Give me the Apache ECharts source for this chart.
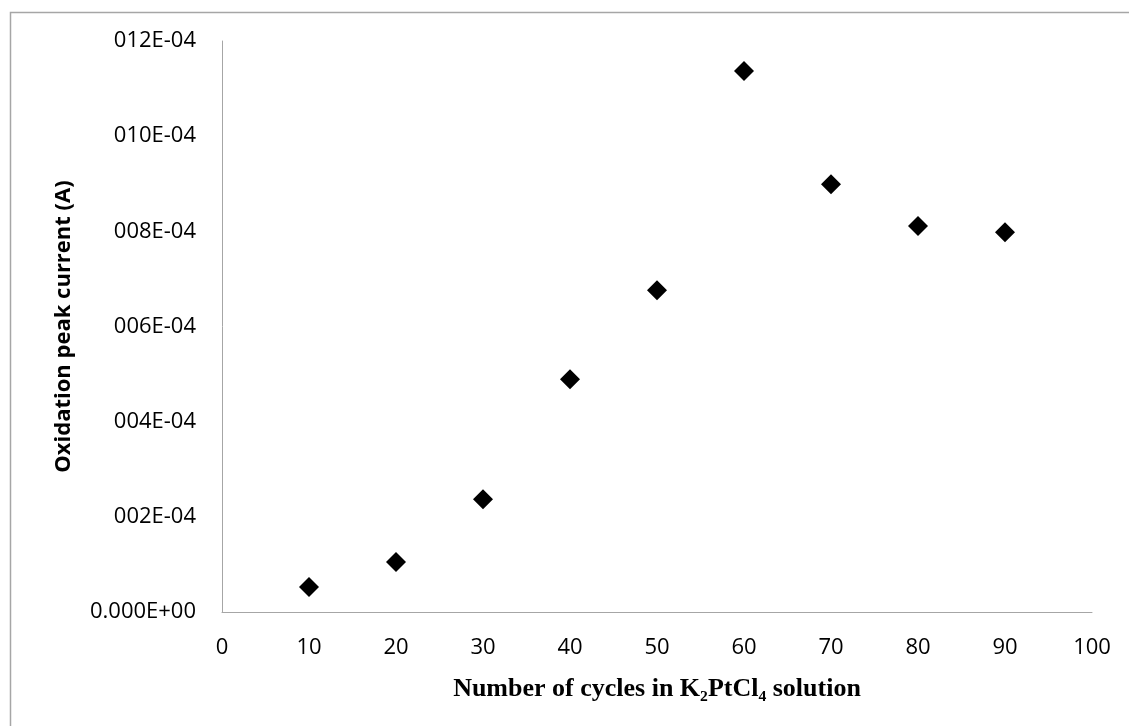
<!DOCTYPE html>
<html>
<head>
<meta charset="utf-8">
<script src="https://cdn.jsdelivr.net/npm/echarts@6/dist/echarts.min.js"></script>
<style>
html,body{margin:0;padding:0;background:#fff;}
#chart{width:1129px;height:726px;}
</style>
</head>
<body>
<div id="chart"></div>
<script>
const cycles = [10, 20, 30, 40, 50, 60, 70, 80, 90];
const peakCurrent = [0.0000525, 0.000105, 0.000237, 0.000489, 0.000676, 0.001137, 0.000899, 0.000811, 0.000798];
const yTickLabels = ['0.000E+00', '002E-04', '004E-04', '006E-04', '008E-04', '010E-04', '012E-04'];
const xTitle = 'Number of cycles in K\u2082PtCl\u2084 solution';
const yTitle = 'Oxidation peak current (A)';

const chart = echarts.init(document.getElementById('chart'));
chart.setOption({
  animation: false,
  backgroundColor: '#fff',
  graphic: [{
    type: 'rect',
    shape: {x: 10.5, y: 12.5, width: 1300, height: 900},
    style: {fill: 'none', stroke: '#a6a6a6', lineWidth: 1.5},
    silent: true
  }],
  grid: {left: 222, right: 37, top: 41, bottom: 114},
  xAxis: {
    type: 'value', min: 0, max: 100, interval: 10,
    axisLine: {show: true, lineStyle: {color: '#a6a6a6', width: 1}},
    axisTick: {show: false},
    splitLine: {show: false},
    axisLabel: {color: '#000', fontFamily: 'Open Sans', fontSize: 22, margin: 25},
    name: xTitle, nameLocation: 'middle', nameGap: 64,
    nameTextStyle: {color: '#000', fontFamily: 'Liberation Serif', fontWeight: 'bold', fontSize: 26}
  },
  yAxis: {
    type: 'value', min: 0, max: 0.0012, interval: 0.0002,
    axisLine: {show: true, lineStyle: {color: '#a6a6a6', width: 1}},
    axisTick: {show: false},
    splitLine: {show: false},
    axisLabel: {color: '#000', fontFamily: 'Open Sans', fontSize: 22, margin: 26,
      formatter: function (v) { return yTickLabels[Math.round(v / 0.0002)]; }},
    name: yTitle, nameLocation: 'middle', nameGap: 147, nameRotate: 90,
    nameTextStyle: {color: '#000', fontFamily: 'Open Sans', fontWeight: 'bold', fontSize: 22}
  },
  series: [{
    type: 'scatter',
    symbol: 'diamond',
    symbolSize: [20, 20],
    itemStyle: {color: '#000', opacity: 1},
    data: cycles.map((c, i) => [c, peakCurrent[i]])
  }]
});
</script>
</body>
</html>
